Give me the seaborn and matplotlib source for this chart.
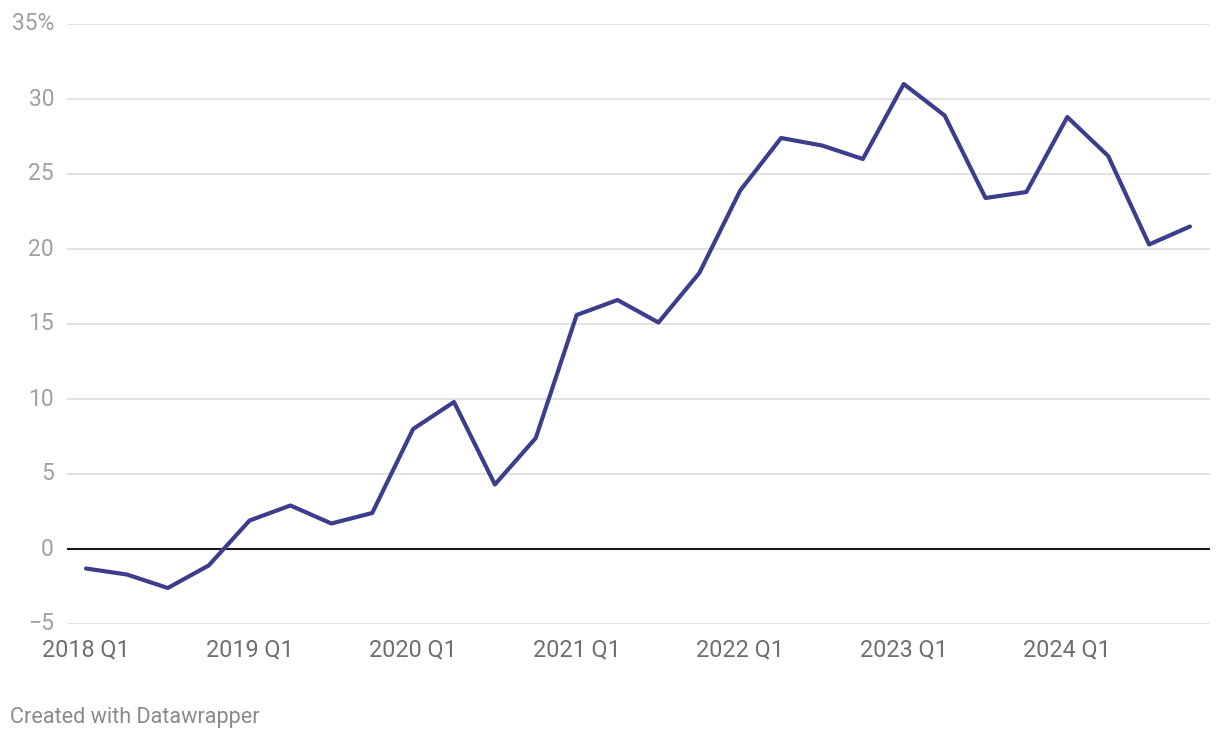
import matplotlib
matplotlib.use("Agg")
import matplotlib.pyplot as plt
import matplotlib.transforms as mtransforms
import seaborn as sns
import pandas as pd

quarters = [f"{y} Q{q}" for y in range(2018, 2025) for q in range(1, 5)]
values = [-1.3, -1.7, -2.6, -1.1,
          1.9, 2.9, 1.7, 2.4,
          8.0, 9.8, 4.3, 7.4,
          15.6, 16.6, 15.1, 18.4,
          23.9, 27.4, 26.9, 26.0,
          31.0, 28.9, 23.4, 23.8,
          28.8, 26.2, 20.3, 21.5]
y_ticks = [-5, 0, 5, 10, 15, 20, 25, 30, 35]
y_labels = ["−5", "0", "5", "10", "15", "20", "25", "30", "35%"]
x_tick_labels = ["2018 Q1", "2019 Q1", "2020 Q1", "2021 Q1", "2022 Q1", "2023 Q1", "2024 Q1"]

sns.set_theme(style="white")
plt.rcParams["font.family"] = ["Roboto", "DejaVu Sans"]

df = pd.DataFrame({"idx": range(len(quarters)), "quarter": quarters, "value": values})

fig = plt.figure(figsize=(12.2, 7.4), dpi=100)
ax = fig.add_axes([67 / 1220, 1 - 624 / 740, (1210 - 67) / 1220, 600 / 740])

for t in y_ticks:
    if t == 0:
        continue
    ax.axhline(t, color="#e3e3e3", lw=1.4, zorder=0)
ax.axhline(0, color="#1a1a1a", lw=1.5, zorder=1)

sns.lineplot(data=df, x="idx", y="value", ax=ax, color="#3d3d8e", lw=3.0, zorder=3)

ax.set_ylim(-5, 35)
ax.set_xlim(-0.465, 27.49)
ax.set_yticks(y_ticks)
ax.set_yticklabels([])
trans = mtransforms.blended_transform_factory(fig.transFigure, ax.transData)
for t, lab in zip(y_ticks, y_labels):
    ax.text(54 / 1220, t, lab, transform=trans,
            ha="right", va="center", fontsize=16.5, color="#a0a0a0")

xt = [quarters.index(l) for l in x_tick_labels]
ax.set_xticks(xt)
ax.set_xticklabels(x_tick_labels, fontsize=16.8, color="#6e6e6e")
ax.tick_params(axis="x", length=0, pad=10)
ax.tick_params(axis="y", length=0)
ax.set_xlabel("")
ax.set_ylabel("")
for s in ax.spines.values():
    s.set_visible(False)

fig.text(10 / 1220, 1 - 717 / 740, "Created with Datawrapper", ha="left", va="center",
         fontsize=15.6, color="#8a8a8a")

fig.savefig("out.png", dpi=100, facecolor="white")
